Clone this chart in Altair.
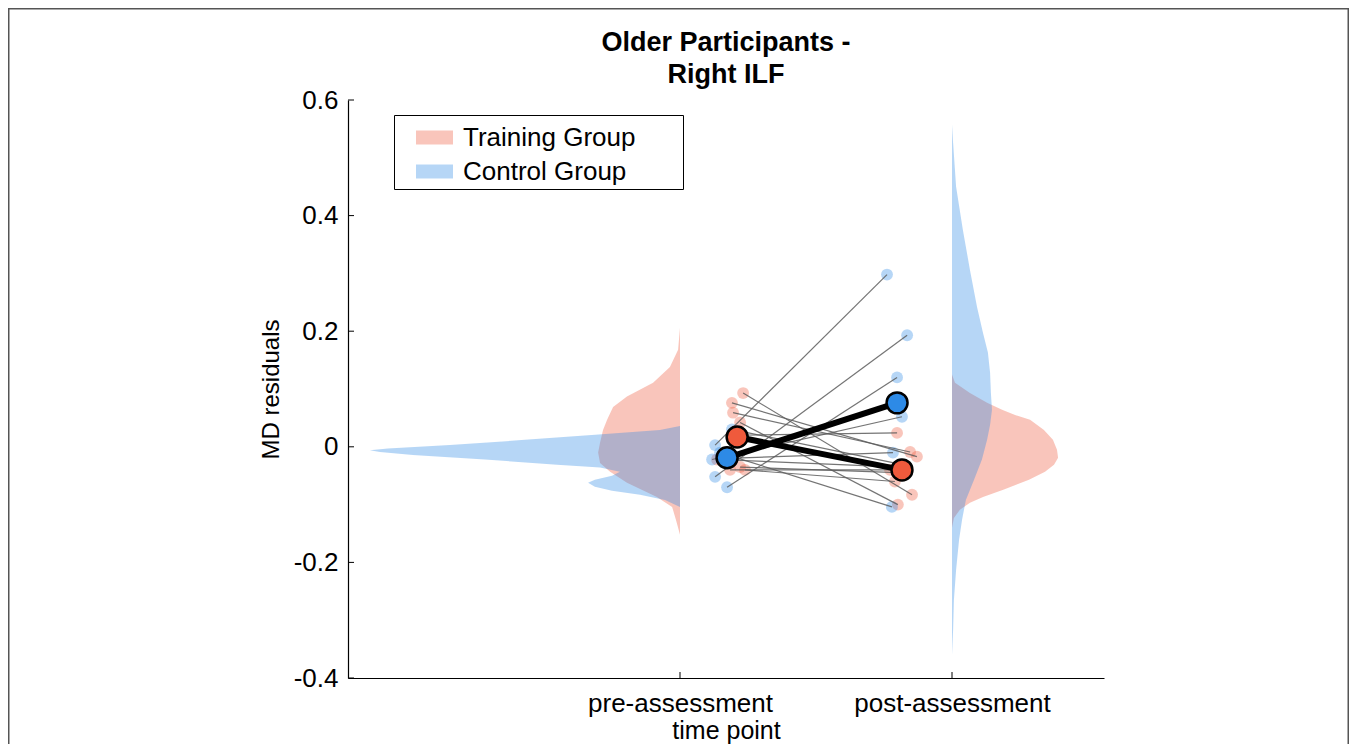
import altair as alt
import pandas as pd

FONT = "Liberation Sans"
GROUPS = ["Training Group", "Control Group"]
COLORS = ["#EF5A3C", "#2D8AE6"]
PHASES = ["pre-assessment", "post-assessment"]
PHASE_X = [1, 2]
Y_TICKS = [-0.4, -0.2, 0, 0.2, 0.4, 0.6]
X_DOMAIN = [-0.2206, 2.5588]
Y_DOMAIN = [-0.4, 0.6]

# individual participants (MD residuals) and their jittered x positions
TRAIN_PRE = [0.093, 0.076, 0.059, 0.042, 0.020, -0.022, -0.035, -0.040, -0.040]
TRAIN_POST = [-0.083, -0.017, -0.009, -0.100, 0.024, -0.035, -0.045, -0.060, -0.040]
TRAIN_PRE_X = [1.232, 1.191, 1.195, 1.221, 1.202, 1.136, 1.221, 1.239, 1.184]
TRAIN_POST_X = [1.853, 1.871, 1.846, 1.801, 1.798, 1.809, 1.827, 1.790, 1.772]
CTRL_PRE = [0.003, -0.052, -0.070, -0.022, -0.020, -0.010, 0.030]
CTRL_POST = [0.298, 0.193, 0.120, 0.052, -0.010, -0.104, -0.030]
CTRL_PRE_X = [1.129, 1.129, 1.173, 1.118, 1.176, 1.147, 1.191]
CTRL_POST_X = [1.761, 1.835, 1.798, 1.816, 1.783, 1.779, 1.809]

# group means
MEAN_TRAIN = [0.017, -0.040]
MEAN_CTRL = [-0.019, 0.076]
MEAN_TRAIN_X = [1.210, 1.816]
MEAN_CTRL_X = [1.173, 1.798]

# density clouds: value and cloud width (x units)
TRAIN_PRE_KY = [0.206, 0.168, 0.138, 0.111, 0.087, 0.069, 0.047, 0.029, 0.007, -0.010,
                -0.028, -0.043, -0.062, -0.087, -0.104, -0.126, -0.152]
TRAIN_PRE_KW = [0.0, 0.007, 0.037, 0.099, 0.195, 0.246, 0.268, 0.283, 0.294, 0.301,
                0.294, 0.257, 0.195, 0.085, 0.029, 0.015, 0.0]
CTRL_PRE_KY = [0.036, 0.029, 0.021, 0.012, 0.003, -0.003, -0.006, -0.009, -0.014, -0.022,
               -0.031, -0.036, -0.043, -0.050, -0.057, -0.062, -0.069, -0.076, -0.083,
               -0.092, -0.104]
CTRL_PRE_KW = [0.0, 0.074, 0.312, 0.570, 0.846, 1.074, 1.140, 1.103, 0.982, 0.717,
               0.452, 0.294, 0.221, 0.250, 0.313, 0.338, 0.313, 0.250, 0.147, 0.055, 0.0]
TRAIN_POST_KY = [0.125, 0.111, 0.093, 0.076, 0.064, 0.055, 0.047, 0.029, 0.012, -0.005,
                 -0.019, -0.031, -0.043, -0.057, -0.074, -0.087, -0.097, -0.109, -0.123,
                 -0.140]
TRAIN_POST_KW = [0.0, 0.011, 0.066, 0.129, 0.184, 0.232, 0.287, 0.338, 0.371, 0.386,
                 0.390, 0.375, 0.342, 0.283, 0.191, 0.114, 0.066, 0.029, 0.007, 0.0]
CTRL_POST_KY = [0.557, 0.526, 0.450, 0.375, 0.306, 0.242, 0.197, 0.163, 0.128, 0.093,
                0.064, 0.038, 0.012, -0.022, -0.057, -0.092, -0.126, -0.161, -0.213,
                -0.265, -0.317, -0.360]
CTRL_POST_KW = [0.0, 0.004, 0.015, 0.040, 0.066, 0.092, 0.114, 0.132, 0.140, 0.143,
                0.147, 0.140, 0.129, 0.110, 0.081, 0.051, 0.037, 0.026, 0.015, 0.007,
                0.004, 0.0]

# ---------- tables ----------
dens_rows = []
for group, phase_i, ys, ws in [
    (GROUPS[0], 0, TRAIN_PRE_KY, TRAIN_PRE_KW),
    (GROUPS[0], 1, TRAIN_POST_KY, TRAIN_POST_KW),
    (GROUPS[1], 0, CTRL_PRE_KY, CTRL_PRE_KW),
    (GROUPS[1], 1, CTRL_POST_KY, CTRL_POST_KW),
]:
    base = PHASE_X[phase_i]
    sign = -1 if phase_i == 0 else 1
    for k, (yv, wv) in enumerate(zip(ys, ws)):
        dens_rows.append({"group": group, "phase": PHASES[phase_i], "k": k,
                          "y": yv, "base": base, "edge": base + sign * wv})
dens = pd.DataFrame(dens_rows)

pt_rows = []
for group, pre, post, prex, postx in [
    (GROUPS[0], TRAIN_PRE, TRAIN_POST, TRAIN_PRE_X, TRAIN_POST_X),
    (GROUPS[1], CTRL_PRE, CTRL_POST, CTRL_PRE_X, CTRL_POST_X),
]:
    for i in range(len(pre)):
        sid = f"{group}-{i}"
        pt_rows.append({"group": group, "sid": sid, "phase": PHASES[0], "x": prex[i], "y": pre[i]})
        pt_rows.append({"group": group, "sid": sid, "phase": PHASES[1], "x": postx[i], "y": post[i]})
pts = pd.DataFrame(pt_rows)

mean_rows = []
for group, mv, mx in [(GROUPS[0], MEAN_TRAIN, MEAN_TRAIN_X), (GROUPS[1], MEAN_CTRL, MEAN_CTRL_X)]:
    for j in range(2):
        mean_rows.append({"group": group, "phase": PHASES[j], "x": mx[j], "y": mv[j]})
means = pd.DataFrame(mean_rows)

yticks = pd.DataFrame({"v": Y_TICKS})
xticks = pd.DataFrame({"v": PHASE_X})

# ---------- encodings ----------
xscale = alt.Scale(domain=X_DOMAIN, nice=False, zero=False)
yscale = alt.Scale(domain=Y_DOMAIN, nice=False, zero=False)
cscale = alt.Scale(domain=GROUPS, range=COLORS)

x_label_expr = f"datum.value == {PHASE_X[0]} ? '{PHASES[0]}' : '{PHASES[1]}'"
xaxis = alt.Axis(values=PHASE_X, labelExpr=x_label_expr, ticks=False, grid=False,
                 domainColor="black", domainWidth=1.2, labelFont=FONT, labelFontSize=26,
                 labelColor="black", labelPadding=12, labelLimit=400,
                 title="time point", titleFont=FONT,
                 titleFontSize=25, titleFontWeight="normal", titleColor="black",
                 titleBaseline="alphabetic", titleY=60)
yaxis = alt.Axis(values=Y_TICKS,
                 labelExpr="datum.value == 0 ? '0' : replace(format(datum.value, '.1f'), '\u2212', '-')",
                 ticks=False, grid=False, domainColor="black", domainWidth=1.2,
                 labelFont=FONT, labelFontSize=26, labelColor="black", labelPadding=10,
                 title="MD residuals", titleFont=FONT, titleFontSize=24,
                 titleFontWeight="normal", titleColor="black", titlePadding=10)

legend = alt.Legend(orient="none", legendX=46, legendY=15, title=None,
                    symbolType="M-1,-0.38H1V0.38H-1Z", symbolSize=1369,
                    symbolOpacity=0.35, symbolStrokeWidth=0, symbolOffset=18,
                    labelOffset=10, labelFont=FONT, labelFontSize=26, labelColor="black",
                    labelLimit=500, rowPadding=2, padding=4, strokeColor="black",
                    fillColor="white",
                    labelExpr="datum.label + '\u00a0\u00a0\u00a0\u00a0\u00a0\u00a0\u200b'")


def X(field):
    return alt.X(field, type="quantitative", scale=xscale, axis=xaxis)


def Y(field):
    return alt.Y(field, type="quantitative", scale=yscale, axis=yaxis)


frame = alt.Chart(pd.DataFrame({"a": [0]})).mark_rect(
    fillOpacity=0, stroke="#555555", strokeWidth=1.5
).encode(x=alt.value(-339.25), x2=alt.value(1000.25), y=alt.value(-91.25), y2=alt.value(700))


def cloud_area(group):
    return alt.Chart(dens).transform_filter(alt.datum.group == group).mark_area(
        orient="horizontal", opacity=0.35
    ).encode(y=Y("y"), x=X("base"), x2="edge", detail="phase:N",
             color=alt.Color("group:N", scale=cscale, legend=legend))


ytick_layer = alt.Chart(yticks).mark_rule(color="black", strokeWidth=1).encode(
    y=Y("v"), x=alt.value(0), x2=alt.value(6))
xtick_layer = alt.Chart(xticks).mark_rule(color="black", strokeWidth=1).encode(
    x=X("v"), y=alt.value(578), y2=alt.value(572))

dots = alt.Chart(pts).mark_circle(size=140, opacity=0.35).encode(
    x=X("x"), y=Y("y"), color=alt.Color("group:N", scale=cscale, legend=None))

thin = alt.Chart(pts).mark_line(color="#5c5c5c", strokeWidth=1.2, opacity=0.85).encode(
    x=X("x"), y=Y("y"), detail="sid:N")

mean_line = alt.Chart(means).mark_line(color="black", strokeWidth=6).encode(
    x=X("x"), y=Y("y"), detail="group:N")

mean_dots = alt.Chart(means).mark_circle(size=440, opacity=1, stroke="black",
                                         strokeWidth=2.5).encode(
    x=X("x"), y=Y("y"), color=alt.Color("group:N", scale=cscale, legend=None))

chart = alt.layer(
    frame,
    cloud_area(GROUPS[0]), cloud_area(GROUPS[1]),
    ytick_layer, xtick_layer, dots, thin, mean_line, mean_dots
).properties(
    width=756, height=578,
    title=alt.TitleParams(text=["Older Participants -", "Right ILF"], font=FONT,
                          fontSize=27, fontWeight="bold", color="black",
                          anchor="middle", offset=8, lineHeight=32, dy=89),
    autosize=alt.AutoSizeParams(type="none"),
    padding={"left": 340, "top": 92, "right": 245, "bottom": 66},
).configure(background="white").configure_view(strokeWidth=0)

chart.save("out.html", embed_options={"renderer": "svg", "actions": False})
